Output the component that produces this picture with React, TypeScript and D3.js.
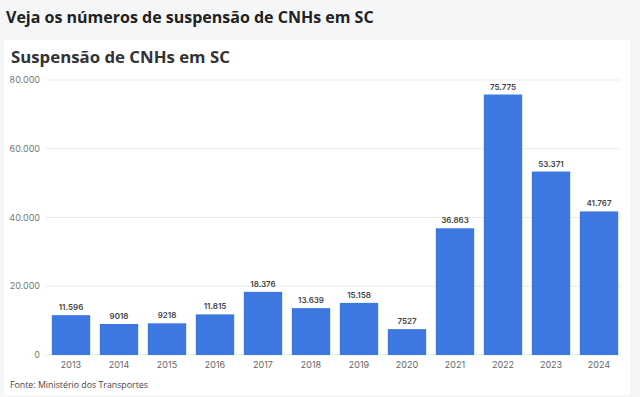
import React, { useEffect, useRef } from "react";
import * as d3 from "d3";

// Data
const years = ["2013", "2014", "2015", "2016", "2017", "2018", "2019", "2020", "2021", "2022", "2023", "2024"];
const suspensions = [11596, 9018, 9218, 11815, 18376, 13639, 15158, 7527, 36863, 75775, 53371, 41767];
const yTicks = [0, 20000, 40000, 60000, 80000];

const width = 640;
const height = 397;

// thousands with a dot, but only from 10.000 up (like the source)
const fmt = (v: number) => (v >= 10000 ? d3.format(",")(v).replace(/,/g, ".") : String(v));

export default function App() {
  const ref = useRef<SVGSVGElement>(null);

  useEffect(() => {
    const svg = d3.select(ref.current);
    svg.selectAll("*").remove();

    // page background and card
    svg.append("rect").attr("width", width).attr("height", height).attr("fill", "#f5f6f8");
    svg.append("rect").attr("x", 4).attr("y", 40).attr("width", 626).attr("height", 355).attr("fill", "#ffffff");

    svg.append("text")
      .attr("x", 6).attr("y", 23)
      .attr("font-family", "Open Sans").attr("font-weight", 700).attr("font-size", 16)
      .attr("fill", "#222").text("Veja os números de suspensão de CNHs em SC");

    svg.append("text")
      .attr("x", 11).attr("y", 63)
      .attr("font-family", "Open Sans").attr("font-weight", 700).attr("font-size", 16.8)
      .attr("fill", "#333").text("Suspensão de CNHs em SC");

    const x = d3.scaleBand().domain(years).range([47, 623]).paddingInner(0.2).paddingOuter(0.1);
    const y = d3.scaleLinear().domain([0, 80000]).range([355, 80]);

    // gridlines
    svg.append("g").selectAll("line").data(yTicks).enter().append("line")
      .attr("x1", 45).attr("x2", 621)
      .attr("y1", d => y(d)).attr("y2", d => y(d))
      .attr("stroke", "#ebebeb").attr("stroke-width", 1);

    svg.append("g").selectAll("text").data(yTicks).enter().append("text")
      .attr("x", 40).attr("y", d => y(d)).attr("dy", "0.35em")
      .attr("text-anchor", "end")
      .attr("font-family", "Inter").attr("font-size", 9).attr("fill", "#777")
      .text(d => fmt(d));

    // bars
    svg.append("g").selectAll("rect").data(suspensions).enter().append("rect")
      .attr("x", (_, i) => x(years[i]) as number)
      .attr("width", x.bandwidth())
      .attr("y", d => y(d))
      .attr("height", d => y(0) - y(d))
      .attr("fill", "#3c78e0");

    // value labels
    svg.append("g").selectAll("text").data(suspensions).enter().append("text")
      .attr("x", (_, i) => (x(years[i]) as number) + x.bandwidth() / 2)
      .attr("y", d => y(d) - 5)
      .attr("text-anchor", "middle")
      .attr("font-family", "Inter").attr("font-weight", 600).attr("font-size", 8).attr("fill", "#444")
      .text(d => fmt(d));

    // x labels
    svg.append("g").selectAll("text").data(years).enter().append("text")
      .attr("x", d => (x(d) as number) + x.bandwidth() / 2)
      .attr("y", 368)
      .attr("text-anchor", "middle")
      .attr("font-family", "Inter").attr("font-size", 9).attr("fill", "#666")
      .text(d => d);

    svg.append("text")
      .attr("x", 10).attr("y", 388)
      .attr("font-family", "Open Sans").attr("font-size", 8.8).attr("fill", "#444")
      .text("Fonte: Ministério dos Transportes");
  }, []);

  return (
    <svg ref={ref} width={width} height={height}
      style={{ position: "absolute", left: 0, top: 0, display: "block" }} />
  );
}
